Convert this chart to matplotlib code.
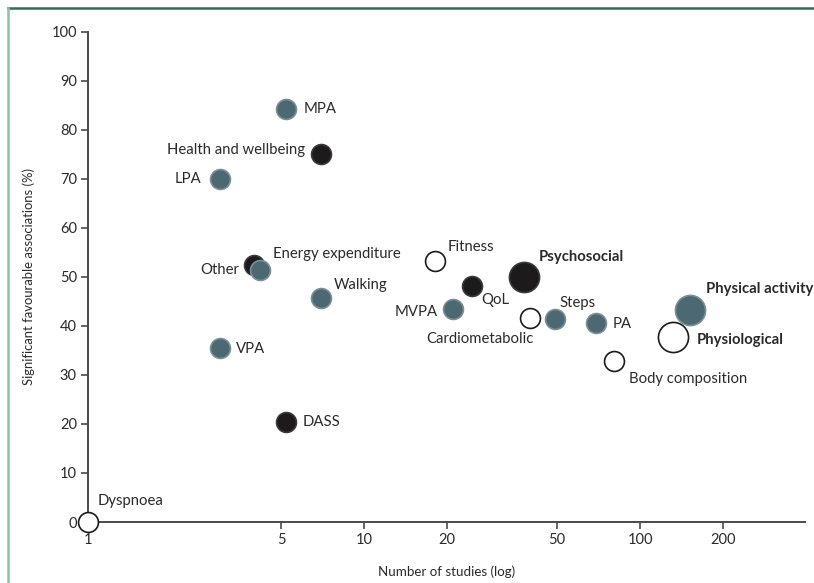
import matplotlib
matplotlib.use("Agg")
import matplotlib.pyplot as plt
from matplotlib.lines import Line2D
from matplotlib.ticker import FixedLocator, FixedFormatter, NullLocator

plt.rcParams['font.family'] = ['Lato', 'DejaVu Sans']

# Outcome categories
labels = ["Dyspnoea", "MPA", "Health and wellbeing", "LPA", "Other",
          "Energy expenditure", "Walking", "VPA", "DASS", "Fitness", "MVPA",
          "QoL", "Psychosocial", "Cardiometabolic", "Steps", "PA",
          "Body composition", "Physical activity", "Physiological"]
# Number of studies
n_studies = [1, 5.2, 7, 3, 4, 4.2, 7, 3, 5.2, 18, 21, 24.5, 38, 40, 49, 69,
             80, 151, 131]
# Share of significant favourable associations (%)
pct_fav = [0, 84.3, 75, 70, 52.5, 51.5, 45.6, 35.5, 20.4, 53.2, 43.5, 48.1,
           50, 41.6, 41.5, 40.6, 32.8, 43.2, 37.7]
# Domain of each outcome: activity (teal), psychosocial (black), physiological (open)
domain = ["phys", "act", "psy", "act", "psy", "act", "act", "act", "psy",
          "phys", "act", "psy", "psy", "phys", "act", "act", "phys", "act",
          "phys"]
# Broad domains drawn with larger markers and bold labels
summary = ["Psychosocial", "Physical activity", "Physiological"]

x_ticks = [1, 5, 10, 20, 50, 100, 200]
y_ticks = list(range(0, 101, 10))

# label offsets in points (dx, dy, ha)
offsets = {
    "Dyspnoea": (7, 15, "left"),
    "MPA": (13, 0, "left"),
    "Health and wellbeing": (-12, 3, "right"),
    "LPA": (-13, 0, "right"),
    "Other": (-11, -4, "right"),
    "Energy expenditure": (9, 11, "left"),
    "Walking": (9, 10, "left"),
    "VPA": (11.5, -1, "left"),
    "DASS": (12, 0, "left"),
    "Fitness": (9, 10, "left"),
    "MVPA": (-11, -2, "right"),
    "QoL": (7, -10, "left"),
    "Psychosocial": (10.5, 14.5, "left"),
    "Cardiometabolic": (2, -15, "right"),
    "Steps": (3.5, 11, "left"),
    "PA": (12, -1, "left"),
    "Body composition": (11, -12.5, "left"),
    "Physical activity": (11.5, 15.5, "left"),
    "Physiological": (17.5, -2, "left"),
}

styles = {
    "act": dict(facecolor="#4c6872", edgecolor="#7d8f96"),
    "psy": dict(facecolor="#1c1a1b", edgecolor="#3a3a3a"),
    "phys": dict(facecolor="white", edgecolor="#1c1a1b"),
}

fig = plt.figure(figsize=(8.14, 5.83), dpi=100)
ax = fig.add_axes([0.1081, 0.1046, 0.8809, 0.8410])

for lab, x, y, d in zip(labels, n_studies, pct_fav, domain):
    big = lab in summary
    s = 470 if big else 205
    st = styles[d]
    ax.scatter([x], [y], s=s, facecolor=st["facecolor"],
               edgecolor=st["edgecolor"], linewidth=1.2, zorder=3,
               clip_on=False)

for lab, x, y in zip(labels, n_studies, pct_fav):
    dx, dy, ha = offsets[lab]
    ax.annotate(lab, (x, y), xytext=(dx, dy), textcoords="offset points",
                ha=ha, va="center", fontsize=10.7, color="#2a2a2a",
                fontweight="bold" if lab in summary else "normal", zorder=4)

ax.set_xscale("log")
ax.set_xlim(1, 395)
ax.set_ylim(0, 100)
ax.xaxis.set_major_locator(FixedLocator(x_ticks))
ax.xaxis.set_major_formatter(FixedFormatter([str(t) for t in x_ticks]))
ax.xaxis.set_minor_locator(NullLocator())
ax.set_yticks(y_ticks)

for side in ("top", "right"):
    ax.spines[side].set_visible(False)
for side in ("left", "bottom"):
    ax.spines[side].set_color("#4a4a4a")
    ax.spines[side].set_linewidth(1.4)

ax.tick_params(axis="both", direction="out", length=5, width=1.2,
               color="#4a4a4a", labelsize=10.5, labelcolor="#2a2a2a", pad=3)

ax.set_xlabel("Number of studies (log)", fontsize=9.6, color="#2a2a2a",
              labelpad=13)
ax.set_ylabel("Significant favourable associations (%)", fontsize=9.4,
              color="#2a2a2a", labelpad=12)

# panel frame
fig.add_artist(Line2D([7.5 / 814, 1], [1 - 7.5 / 583] * 2,
                      transform=fig.transFigure, color="#2e6e4c", lw=1.8))
fig.add_artist(Line2D([7.5 / 814] * 2, [0, 1 - 7.5 / 583],
                      transform=fig.transFigure, color="#86c4a6", lw=1.8))

fig.savefig("out.png", dpi=100)
